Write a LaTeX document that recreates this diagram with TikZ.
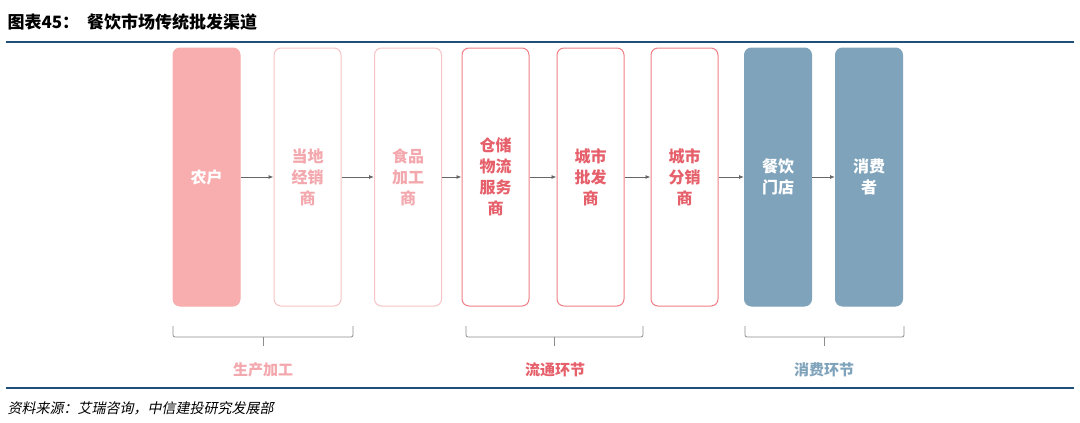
\documentclass[tikz,border=0pt]{standalone}
\usepackage{fontspec}
\setmainfont{Noto Sans CJK SC}
\newfontfamily\slantcjk[FakeSlant=0.2]{Noto Sans CJK SC}
\usetikzlibrary{arrows.meta}
\definecolor{pinkA}{HTML}{F8AEAF}
\definecolor{pinkB}{HTML}{F6C3C6}
\definecolor{pinkBt}{HTML}{F3A8AE}
\definecolor{redC}{HTML}{EE7F86}
\definecolor{redCt}{HTML}{E6606B}
\definecolor{blueD}{HTML}{7FA3BB}
\definecolor{navy}{HTML}{1F4E79}
\begin{document}
\begin{tikzpicture}[x=1pt,y=-1pt,
  box/.style={rounded corners=7pt,minimum width=67pt,minimum height=258pt,align=center,font=\bfseries\fontsize{16}{21}\selectfont,line width=1pt,inner sep=0pt},
  arr/.style={-{Latex[length=5pt,width=4pt]},gray!80!black,line width=0.8pt},
  lab/.style={font=\bfseries\fontsize{15}{17}\selectfont},
  br/.style={gray!90,line width=0.8pt}]
\useasboundingbox (0,0) rectangle (1080,423);
\node[anchor=west,font=\bfseries\fontsize{17}{19}\selectfont] (title) at (4,22) {图表45：\hspace{8pt}餐饮市场传统批发渠道};
\draw[navy,line width=2pt] (6,42) -- (1074,42);
\node[box,fill=pinkA,draw=pinkA,text=white] (b1) at (206.5,177) {农户};
\node[box,draw=pinkB,text=pinkBt] (b2) at (307.5,177) {当地\\经销\\商};
\node[box,draw=pinkB,text=pinkBt] (b3) at (408,177) {食品\\加工\\商};
\node[box,draw=redC,text=redCt] (b4) at (495.5,177) {仓储\\物流\\服务\\商};
\node[box,draw=redC,text=redCt] (b5) at (590.5,177) {城市\\批发\\商};
\node[box,draw=redC,text=redCt] (b6) at (684.5,177) {城市\\分销\\商};
\node[box,fill=blueD,draw=blueD,text=white] (b7) at (778,177) {餐饮\\门店};
\node[box,fill=blueD,draw=blueD,text=white] (b8) at (869,177) {消费\\者};
\foreach \a/\b in {b1/b2,b2/b3,b3/b4,b4/b5,b5/b6,b6/b7,b7/b8}
  \draw[arr] (\a) -- (\b);
\foreach \l/\r in {173/353,466/643,745/904}{
  \draw[br] (\l,326) -- (\l,330) [rounded corners=2pt]-- (\l,337) -- (\r,337) -- (\r,330) -- (\r,326);
  \draw[br] ({(\l+\r)/2},337) -- ({(\l+\r)/2},346);}
\node[lab,text=pinkBt] (g1) at (263,370) {生产加工};
\node[lab,text=redCt] (g2) at (555,370) {流通环节};
\node[lab,text=blueD] (g3) at (824,370) {消费环节};
\draw[navy,line width=2pt] (6,388) -- (1074,388);
\node[anchor=west,font=\slantcjk\fontsize{14}{16}\selectfont] (src) at (4,408) {资料来源：艾瑞咨询，中信建投研究发展部};
\end{tikzpicture}
\end{document}
